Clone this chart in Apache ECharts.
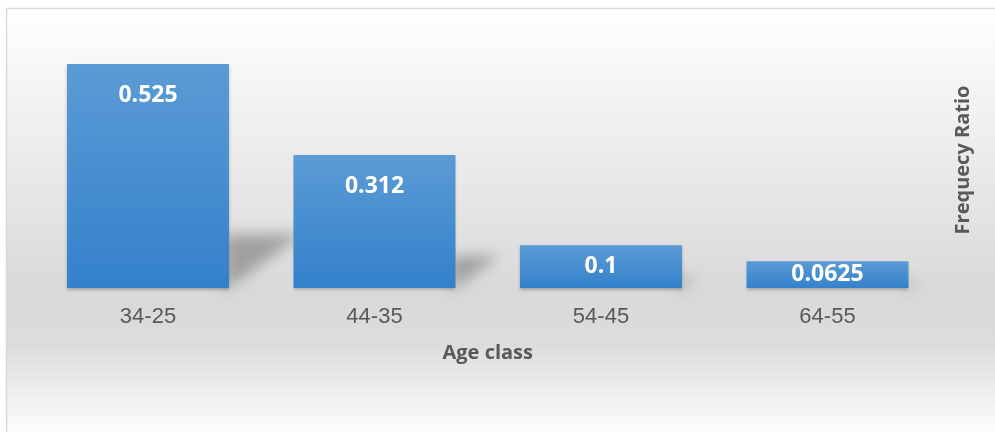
<!DOCTYPE html>
<html>
<head>
<meta charset="utf-8">
<script src="https://cdn.jsdelivr.net/npm/echarts@6/dist/echarts.min.js"></script>
<style>html,body{margin:0;padding:0;background:#fff}#c{width:995px;height:432px}</style>
</head>
<body>
<div id="c"></div>
<script>
const categories = ['34-25', '44-35', '54-45', '64-55'];
const frequencyRatio = [0.525, 0.312, 0.1, 0.0625];
const xAxisName = 'Age class';
const yAxisName = 'Frequecy Ratio';

const chart = echarts.init(document.getElementById('c'), null, {renderer: 'canvas'});
const barFrac = 0.715;
const OFF = 1500;

const option = {
  animation: false,
  backgroundColor: '#ffffff',
  graphic: [{
    type: 'rect', z: -100, silent: true,
    shape: {x: 6.5, y: 8.5, width: 1000, height: 430},
    style: {
      fill: new echarts.graphic.LinearGradient(0, 0, 0, 1, [
        {offset: 0, color: '#ffffff'},
        {offset: 0.66, color: '#d9d9d9'},
        {offset: 0.78, color: '#dcdcdc'},
        {offset: 1, color: '#ffffff'}
      ]),
      stroke: '#d9d9d9', lineWidth: 1.5
    }
  }],
  grid: {left: 34.75, right: 54.25, top: 32, bottom: 144},
  xAxis: {
    type: 'category', data: categories,
    axisLine: {show: false}, axisTick: {show: false},
    axisLabel: {color: '#595959', fontSize: 22, fontFamily: 'Liberation Sans, Arial, sans-serif', margin: 18},
    name: xAxisName, nameLocation: 'middle', nameGap: 55,
    nameTextStyle: {color: '#595959', fontSize: 20, fontWeight: 'bold', fontFamily: 'Open Sans, sans-serif'}
  },
  yAxis: {
    type: 'value', min: 0, max: 0.6, position: 'right',
    axisLine: {show: false}, axisTick: {show: false}, axisLabel: {show: false}, splitLine: {show: false},
    name: yAxisName, nameLocation: 'middle', nameRotate: 90, nameGap: 13,
    nameTextStyle: {color: '#595959', fontSize: 20, fontWeight: 'bold', fontFamily: 'Open Sans, sans-serif'}
  },
  series: [
    {
      type: 'custom', z: 1, silent: true, clip: false,
      data: frequencyRatio.map((v, i) => [i, v]),
      renderItem: function (params, api) {
        const idx = api.value(0), v = api.value(1);
        const base = api.coord([idx, 0]);
        const top = api.coord([idx, v]);
        const band = api.size([1, 0])[0];
        const xr = base[0] + band * barFrac / 2 - OFF;
        const h = base[1] - top[1];
        const yb = base[1];
        return {
          type: 'polygon',
          shape: {points: [[xr - 4, yb - 0.24 * h], [xr + 0.33 * h, yb - 0.24 * h], [xr - 4, yb + 2]]},
          style: {fill: '#000', shadowBlur: 14, shadowColor: 'rgba(0,0,0,0.28)', shadowOffsetX: OFF}
        };
      }
    },
    {
      type: 'bar', z: 3,
      barWidth: (barFrac * 100) + '%',
      data: frequencyRatio.map(v => ({
        value: v,
        label: v < 0.15 ? {position: 'inside'} : {position: 'insideTop', distance: 20}
      })),
      itemStyle: {
        color: new echarts.graphic.LinearGradient(0, 0, 0, 1, [
          {offset: 0, color: '#5b9bd5'},
          {offset: 1, color: '#3481cb'}
        ]),
        shadowColor: 'rgba(0,0,0,0.25)', shadowBlur: 3, shadowOffsetY: 2
      },
      label: {
        show: true, color: '#ffffff', fontSize: 23, fontWeight: 'bold',
        fontFamily: 'Open Sans, sans-serif'
      }
    }
  ]
};
chart.setOption(option);
</script>
</body>
</html>
